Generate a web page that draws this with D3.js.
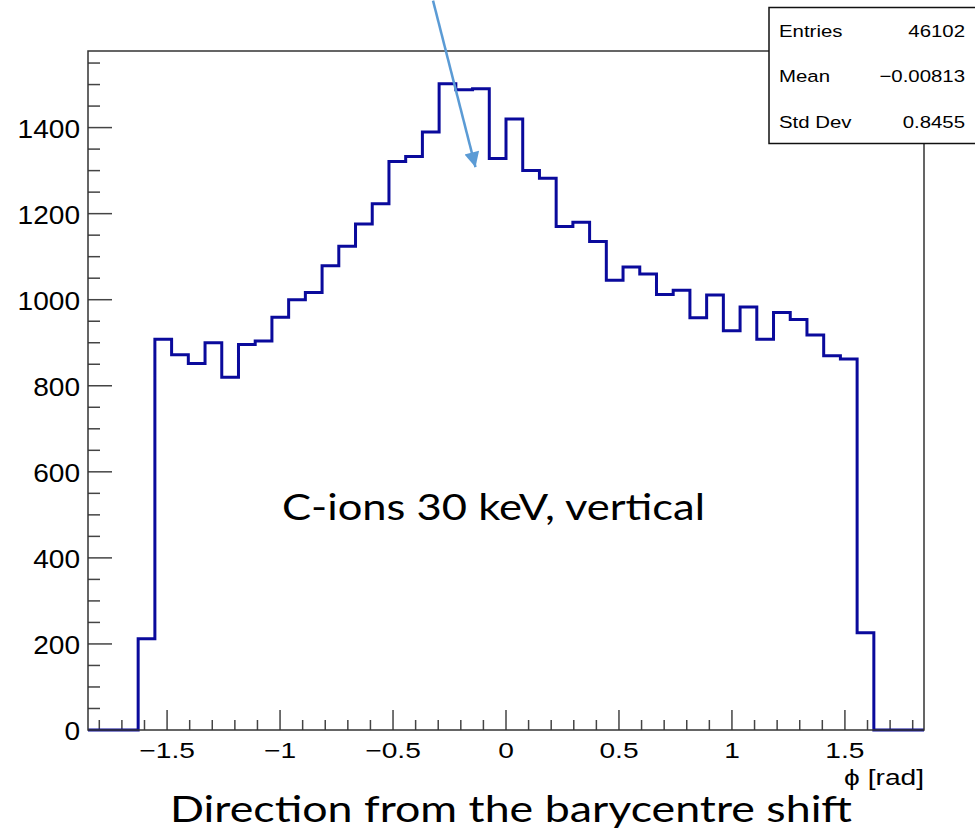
<!DOCTYPE html>
<html lang="en">
<head>
    <meta charset="UTF-8">
    <title>phi histogram</title>
    <script src="https://d3js.org/d3.v7.min.js"></script>
    <style>
        body { margin: 0; background: #fff; }
        svg { display: block; }
        .root-text { font-family: "Liberation Sans", Arial, sans-serif; fill: #000; }
        .slide-text { font-family: Lato, "Open Sans", sans-serif; fill: #000; }
        .frame { fill: none; stroke: #333; stroke-width: 1.5px; }
        .tick { stroke: #444; stroke-width: 1.5px; }
        .hist { fill: none; stroke: #0a0a9c; stroke-width: 3px; stroke-linejoin: miter; }
    </style>
</head>
<body>
<svg width="975" height="835"></svg>
<script>
    // 50 bins over [-1.85, 1.85]
    const xRange = [-1.85, 1.85];
    const counts = [
        0, 0, 0, 212, 908, 872, 852, 900, 820, 896,
        904, 959, 1000, 1017, 1079, 1124, 1176, 1223, 1321, 1333,
        1390, 1502, 1488, 1490, 1328, 1420, 1300, 1282, 1170, 1180,
        1135, 1045, 1076, 1060, 1012, 1022, 958, 1011, 928, 983,
        908, 970, 954, 918, 870, 862, 226, 0, 0, 0
    ];
    const yMax = 1578;
    const xMajor = [-1.5, -1, -0.5, 0, 0.5, 1, 1.5];
    const xMinor = d3.range(-18, 19).map(d => d / 10);
    const yMajor = [0, 200, 400, 600, 800, 1000, 1200, 1400];
    const yMinor = d3.range(0, 1551, 50);
    const statNames = ["Entries", "Mean", "Std Dev"];
    const statValues = ["46102", "\u22120.00813", "0.8455"];
    const xTitle = "\u03d5 [rad]";
    const caption = "Direction from the barycentre shift";
    const note = "C-ions 30 keV, vertical";
    // arrow annotation in data coordinates: [x, y] start -> tip
    const arrowFrom = [-0.323, 1695];
    const arrowTo = [-0.135, 1308];

    const svg = d3.select("svg");
    const frame = { left: 88, right: 924, top: 51, bottom: 730 };

    const x = d3.scaleLinear().domain(xRange).range([frame.left, frame.right]);
    const y = d3.scaleLinear().domain([0, yMax]).range([frame.bottom, frame.top]);

    const nBins = counts.length;
    const binW = (xRange[1] - xRange[0]) / nBins;

    // ticks
    const g = svg.append("g");
    g.selectAll(".ymin").data(yMinor).enter().append("line")
        .attr("class", "tick")
        .attr("x1", frame.left).attr("x2", d => frame.left + (yMajor.includes(d) ? 24 : 12))
        .attr("y1", d => y(d)).attr("y2", d => y(d));
    g.selectAll(".xmin").data(xMinor).enter().append("line")
        .attr("class", "tick")
        .attr("x1", d => x(d)).attr("x2", d => x(d))
        .attr("y1", frame.bottom)
        .attr("y2", d => frame.bottom - (xMajor.some(m => Math.abs(m - d) < 1e-9) ? 20 : 10));

    // histogram outline
    const pts = [];
    counts.forEach((c, i) => {
        const x0 = xRange[0] + i * binW;
        pts.push([x(x0), y(c)]);
        pts.push([x(x0 + binW), y(c)]);
    });
    svg.append("path")
        .attr("class", "hist")
        .attr("d", d3.line()(pts));

    // frame
    svg.append("rect")
        .attr("class", "frame")
        .attr("x", frame.left).attr("y", frame.top)
        .attr("width", frame.right - frame.left)
        .attr("height", frame.bottom - frame.top);

    // tick labels
    svg.selectAll(".ylab").data(yMajor).enter().append("text")
        .attr("class", "root-text")
        .attr("text-anchor", "end")
        .attr("font-size", 26)
        .attr("transform", d => `translate(80,${y(d) + 10}) scale(1.08,1)`)
        .text(d => d);

    const fmtX = d => (d < 0 ? "\u2212" : "") + String(Math.abs(d));
    svg.selectAll(".xlab").data(xMajor).enter().append("text")
        .attr("class", "root-text")
        .attr("text-anchor", "middle")
        .attr("font-size", 22)
        .attr("transform", d => `translate(${x(d)},758) scale(1.28,1)`)
        .text(fmtX);

    svg.append("text")
        .attr("class", "root-text")
        .attr("text-anchor", "end")
        .attr("font-size", 22)
        .attr("transform", `translate(${frame.right},785) scale(1.28,1)`)
        .text(xTitle);

    // stats box
    svg.append("rect")
        .attr("x", 769).attr("y", 7.5)
        .attr("width", 220).attr("height", 136)
        .attr("fill", "#fff").attr("stroke", "#111").attr("stroke-width", 1.5);
    const rowY = [37, 82, 128];
    svg.selectAll(".sname").data(statNames).enter().append("text")
        .attr("class", "root-text")
        .attr("font-size", 17)
        .attr("transform", (d, i) => `translate(779,${rowY[i]}) scale(1.2,1)`)
        .text(d => d);
    svg.selectAll(".sval").data(statValues).enter().append("text")
        .attr("class", "root-text")
        .attr("text-anchor", "end")
        .attr("font-size", 17)
        .attr("transform", (d, i) => `translate(965,${rowY[i]}) scale(1.2,1)`)
        .text(d => d);

    // slide texts
    svg.append("text")
        .attr("class", "slide-text")
        .attr("x", 282).attr("y", 520)
        .attr("font-size", 37)
        .attr("textLength", 423).attr("lengthAdjust", "spacingAndGlyphs")
        .text(note);
    svg.append("text")
        .attr("class", "slide-text")
        .attr("x", 170).attr("y", 822)
        .attr("font-size", 36)
        .attr("textLength", 682).attr("lengthAdjust", "spacingAndGlyphs")
        .text(caption);

    // arrow
    svg.append("defs").append("marker")
        .attr("id", "arrowhead")
        .attr("viewBox", "0 -5 10 10")
        .attr("refX", 10).attr("refY", 0)
        .attr("orient", "auto")
        .attr("markerUnits", "userSpaceOnUse")
        .attr("markerWidth", 17).attr("markerHeight", 15)
        .append("path")
        .attr("d", "M0,-5L10,0L0,5Z")
        .attr("fill", "#5b9bd5");
    svg.append("line")
        .attr("x1", x(arrowFrom[0])).attr("y1", y(arrowFrom[1]))
        .attr("x2", x(arrowTo[0])).attr("y2", y(arrowTo[1]))
        .attr("stroke", "#5b9bd5").attr("stroke-width", 2.5)
        .attr("marker-end", "url(#arrowhead)");
</script>
</body>
</html>
